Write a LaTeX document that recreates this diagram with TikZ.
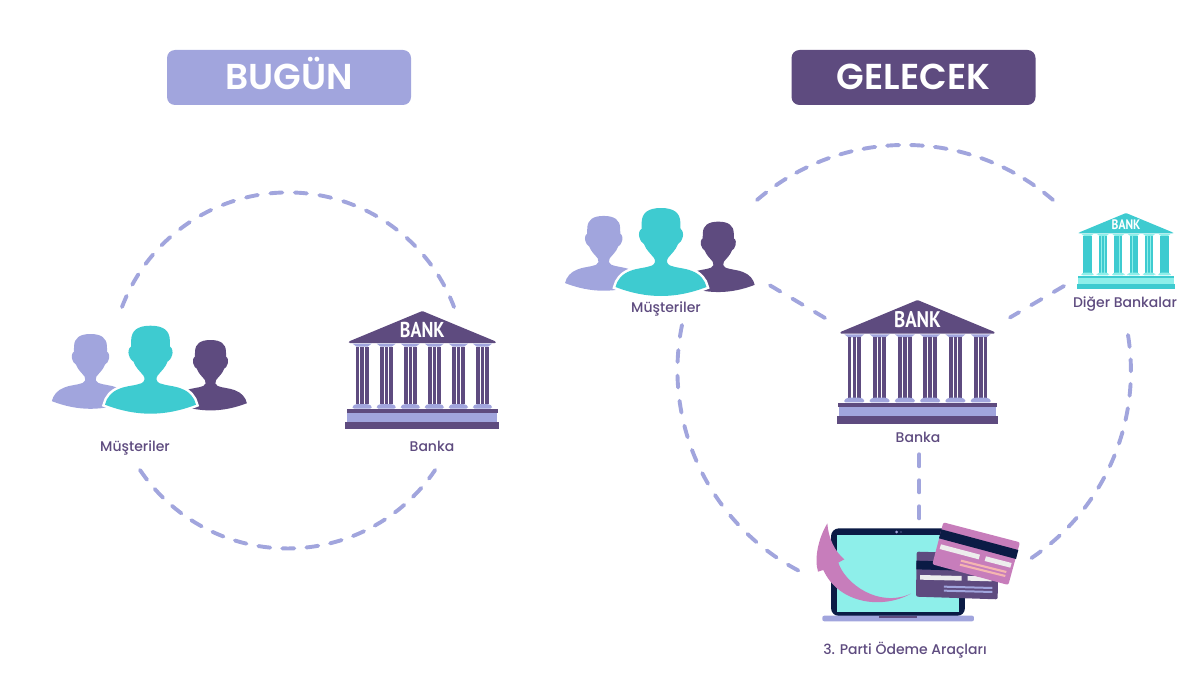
\documentclass[tikz,border=0pt]{standalone}
\usepackage{fontspec}
\setmainfont{Poppins Medium}
\newfontfamily\headfont{Poppins SemiBold}
\newfontfamily\bankfont{PT Sans}[BoldFont={PT Sans Bold}]
\definecolor{lilac}{HTML}{A1A5DD}
\definecolor{plum}{HTML}{5E4B7F}
\definecolor{teal}{HTML}{3ECBD0}
\definecolor{aqua}{HTML}{8EEFEA}
\definecolor{navy}{HTML}{0B1B45}
\definecolor{orchid}{HTML}{C77DBB}
\definecolor{peach}{HTML}{F5B6B0}
\definecolor{paper}{HTML}{EDEDED}
\tikzset{
  header/.style={rounded corners=8pt,minimum width=244pt,minimum height=55pt,text=white,inner sep=0pt,
    text height=25pt,text depth=0pt,font=\headfont\fontsize{36}{36}\selectfont},
  caption/.style={text=plum,inner sep=0pt,anchor=base,font=\fontsize{14}{14}\selectfont},
  link/.style={draw=lilac,line width=3.9pt,line cap=round,dash pattern=on 12pt off #1pt},
  link/.default=14,
  bankcol/.store in=\bankcol,
  banktrim/.store in=\banktrim,
  bankgap/.store in=\bankgap,
  % one head-and-shoulders figure; origin at the top of the head
  bust/.pic={
    \path[pic actions] (0,0)
      .. controls (13,0) and (19,5) .. (19.3,14)
      .. controls (19.5,18) and (19.5,20) .. (19.5,21)
      .. controls (22,22) and (22.5,27) .. (21.7,29)
      .. controls (20.5,33) and (19,35) .. (17,36)
      .. controls (15,42) and (10,46) .. (7,50)
      .. controls (5,53) and (6,56) .. (9,57.5)
      .. controls (15,60) and (24,60) .. (31,63)
      .. controls (39,66) and (44,72) .. (45.5,79)
      .. controls (30,85) and (15,88) .. (0,88)
      .. controls (-15,88) and (-30,85) .. (-45.5,79)
      .. controls (-44,72) and (-39,66) .. (-31,63)
      .. controls (-24,60) and (-15,60) .. (-9,57.5)
      .. controls (-6,56) and (-5,53) .. (-7,50)
      .. controls (-10,46) and (-15,42) .. (-17,36)
      .. controls (-19,35) and (-20.5,33) .. (-21.7,29)
      .. controls (-22.5,27) and (-22,22) .. (-19.5,21)
      .. controls (-19.5,20) and (-19.5,18) .. (-19.3,14)
      .. controls (-19,5) and (-13,0) .. (0,0) -- cycle;
  },
  % a bank front; origin at the roof's apex, x centred
  bankfront/.pic={
    \fill[\bankcol,rounded corners=1pt] (0,0) -- (73.5,30.5) -- (73.5,32) -- (-73.5,32) -- (-73.5,30.5) -- cycle;
    \node[text=white,inner sep=0pt,transform shape,xscale=.84,font=\bankfont\bfseries\fontsize{21.5}{21.5}\selectfont] (-label) at (0,19) {BANK};
    \foreach \cx in {-60.2,-36.1,-12,12,36.1,60.2}{
      \begin{scope}[xshift=\cx pt]
        \fill[\bankgap] (-6.2,35.7) rectangle (6.2,93);
        \fill[\banktrim] (-9.5,32.7) -- (9.5,32.7) -- (5.5,35.7) -- (-5.5,35.7) -- cycle;
        \fill[\bankcol] (-6.4,35.7) rectangle (-2.7,93);
        \fill[\bankcol] (-1.7,35.7) rectangle (1.7,93);
        \fill[\bankcol] (2.7,35.7) rectangle (6.4,93);
        \fill[\banktrim,rounded corners=1.5pt] (-9.7,97.5) -- (-9.7,95) -- (-6,93) -- (6,93) -- (9.7,95) -- (9.7,97.5) -- cycle;
      \end{scope}
    }
    \fill[\bankcol] (-75.5,98) rectangle (75.5,102.3);
    \fill[\banktrim] (-75,102.3) rectangle (75,110.7);
    \fill[\bankcol] (-77,110.7) rectangle (77,118);
  },
  % three customers grouped; origin at the top of the middle head
  customers/.pic={
    \pic[fill=lilac,scale=.85] at (-60,8.3) {bust};
    \pic[fill=plum,scale=.8] at (60,14.3) {bust};
    \pic[draw=white,line width=5pt] at (0,0) {bust};
    \pic[fill=teal] at (0,0) {bust};
  }
}
\begin{document}
\begin{tikzpicture}[x=1pt,y=-1pt]
\useasboundingbox (0,0) rectangle (1201,687);

% column titles
\node[header,fill=lilac] (today) at (289,77.5) {BUGÜN};
\node[header,fill=plum] (future) at (913.5,77.5) {GELECEK};

% present: customers and bank share one circle
\coordinate (nowUpper) at (122,307);
\coordinate (nowLower) at (140,470);
\draw[link=12.6] (nowUpper) arc[start angle=159.2,end angle=20.8,radius=177.6pt];
\draw[link=12.1] (nowLower) arc[start angle=214,end angle=326,radius=178pt];

\pic (custNow) at (150.5,325.7) {customers};
\node[caption] (custNowText) at (135,451.5) {Müşteriler};
\pic[bankcol=plum,banktrim=lilac,bankgap=white] (bankNow) at (422.3,311) {bankfront};
\node[caption] (bankNowText) at (432,451.5) {Banka};

% future: customers, banks and third-party tools on a wider circle
\coordinate (nextTop) at (757,200);
\coordinate (nextRight) at (1128,335);
\coordinate (nextLeft) at (682,325);
\draw[link=11.9] (nextTop) arc[start angle=130.8,end angle=49.2,radius=226.5pt];
\draw[link=12.5] (nextRight) arc[start angle=9.2,end angle=-56,radius=225.5pt];
\draw[link=13.4] (nextLeft) arc[start angle=168.5,end angle=242.2,radius=226.5pt];

\pic[scale=.955] (custNext) at (661,208) {customers};
\node[caption] (custNextText) at (666,312) {Müşteriler};
\pic[scale=1.05,bankcol=plum,banktrim=lilac,bankgap=white] (bankNext) at (917.5,300) {bankfront};
\node[caption] (bankNextText) at (918,442) {Banka};
\pic[scale=.64,bankcol=teal,banktrim=aqua,bankgap=aqua] (bankOther) at (1126,213) {bankfront};
\node[caption] (bankOtherText) at (1125,307) {Diğer Bankalar};
\node[caption] (toolsText) at (905,654) {3. Parti Ödeme Araçları};

% spokes towards the central bank
\coordinate (spokeCust) at (770,285.4);
\coordinate (spokeCustEnd) at (825,318);
\coordinate (spokeOther) at (1064,286);
\coordinate (spokeOtherEnd) at (1010,317.5);
\coordinate (spokeTools) at (919.3,454.3);
\coordinate (spokeToolsEnd) at (919.3,518.3);
\draw[link] (spokeCust) -- (spokeCustEnd);
\draw[link] (spokeOther) -- (spokeOtherEnd);
\draw[link] (spokeTools) -- (spokeToolsEnd);

% laptop with payment cards
\begin{scope}[shift={(800,510)},x=.3333pt,y=-.3333pt]
  \fill[navy,rounded corners=8pt] (93,318) -- (93,55) -- (495,55) -- (495,318) -- cycle;
  \fill[aqua] (110,76) rectangle (478,307);
  \fill[lilac,rounded corners=2pt] (67,317) rectangle (522,334);
  \fill[plum] (238,318) rectangle (352,325);
  \fill[lilac] (290,66) circle[radius=1.5pt];
  \fill[lilac] (303,66) circle[radius=.6pt];
  % back card
  \fill[plum,rounded corners=2pt] (350,125) -- (595,132) -- (593,268) -- (348,260) -- cycle;
  \fill[navy] (349.5,152) -- (594.5,159) -- (594,185) -- (349,178) -- cycle;
  \fill[paper] (360,195) -- (485,198) -- (485,212) -- (360,209) -- cycle;
  \fill[paper] (503,198) -- (575,200) -- (575,214) -- (503,212) -- cycle;
  \fill[lilac] (432,227) -- (577,231) -- (577,237) -- (432,233) -- cycle;
  \fill[lilac] (432,239) -- (577,243) -- (577,249) -- (432,245) -- cycle;
  % front card
  \fill[orchid,rounded corners=2pt] (430,37) -- (660,97) -- (625,225) -- (397,163) -- cycle;
  \fill[navy] (424,58) -- (655,120) -- (648,147) -- (417,85) -- cycle;
  \fill[paper] (423,103) -- (540,134) -- (536,148) -- (419,117) -- cycle;
  \fill[paper] (558,139) -- (635,159) -- (631,173) -- (554,153) -- cycle;
  \fill[peach] (484,149) -- (620,183) -- (618,189) -- (482,155) -- cycle;
  \fill[peach] (481,161) -- (617,195) -- (615,201) -- (479,167) -- cycle;
\end{scope}

% swooping arrow over the screen
\begin{scope}[shift={(810,515)},x=.3333pt,y=-.3333pt]
  \fill[orchid] (52,25)
    .. controls (55,70) and (75,110) .. (103,133)
    -- (85,143)
    .. controls (105,205) and (205,280) .. (303,236)
    .. controls (215,285) and (85,265) .. (40,165)
    -- (24,170)
    .. controls (12,130) and (25,70) .. (52,25) -- cycle;
\end{scope}
\end{tikzpicture}
\end{document}
